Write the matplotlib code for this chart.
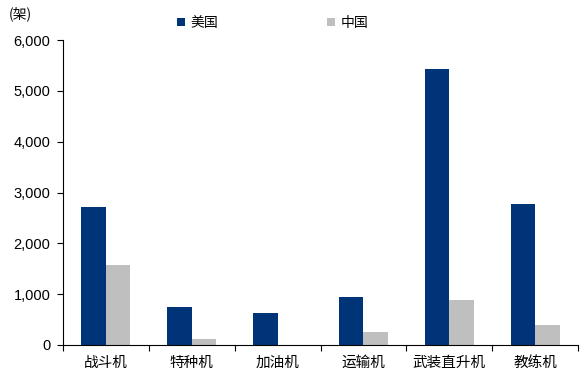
import numpy as np
import matplotlib.pyplot as plt
from matplotlib.ticker import FuncFormatter

plt.rcParams['font.family'] = ['Noto Sans CJK SC', 'DejaVu Sans']

categories = ['战斗机', '特种机', '加油机', '运输机', '武装直升机', '教练机']
us_values = [2710, 750, 625, 940, 5430, 2765]
cn_values = [1570, 110, 0, 255, 895, 395]

fig = plt.figure(figsize=(5.86, 3.81), dpi=100)
ax = fig.add_axes([0.1075, 0.0945, 0.879, 0.8005])

x = np.arange(len(categories))
w = 0.285
ax.bar(x - w / 2, us_values, w, color='#003478', label='美国')
ax.bar(x + w / 2, cn_values, w, color='#BFBFBF', label='中国')

ax.set_xlim(-0.5, len(categories) - 0.5)
ax.set_ylim(0, 6000)
ax.set_yticks(range(0, 6001, 1000))
ax.yaxis.set_major_formatter(FuncFormatter(lambda v, p: '{:,.0f}'.format(v)))
ax.tick_params(axis='y', direction='out', length=4, labelsize=10.5, colors='black', pad=5)
for t in ax.get_yticklabels():
    t.set_family('Liberation Sans')

# category ticks sit between groups
ax.set_xticks(np.arange(-0.5, len(categories), 1.0))
ax.set_xticklabels([])
ax.set_xticks(x, minor=True)
ax.set_xticklabels(categories, minor=True, fontsize=10.5)
ax.tick_params(axis='x', which='major', direction='out', length=4)
ax.tick_params(axis='x', which='minor', length=0, pad=8)

for s in ['top', 'right']:
    ax.spines[s].set_visible(False)
ax.spines['left'].set_color('black')
ax.spines['bottom'].set_color('black')

fig.text(0.015, 0.963, '(架)', fontsize=10, va='center')
fig.legend(loc='center', bbox_to_anchor=(0.465, 0.94), ncol=2, frameon=False,
           fontsize=10, handlelength=0.6, handleheight=0.6, handletextpad=0.4,
           columnspacing=7.8)

fig.savefig('out.png', dpi=100)
